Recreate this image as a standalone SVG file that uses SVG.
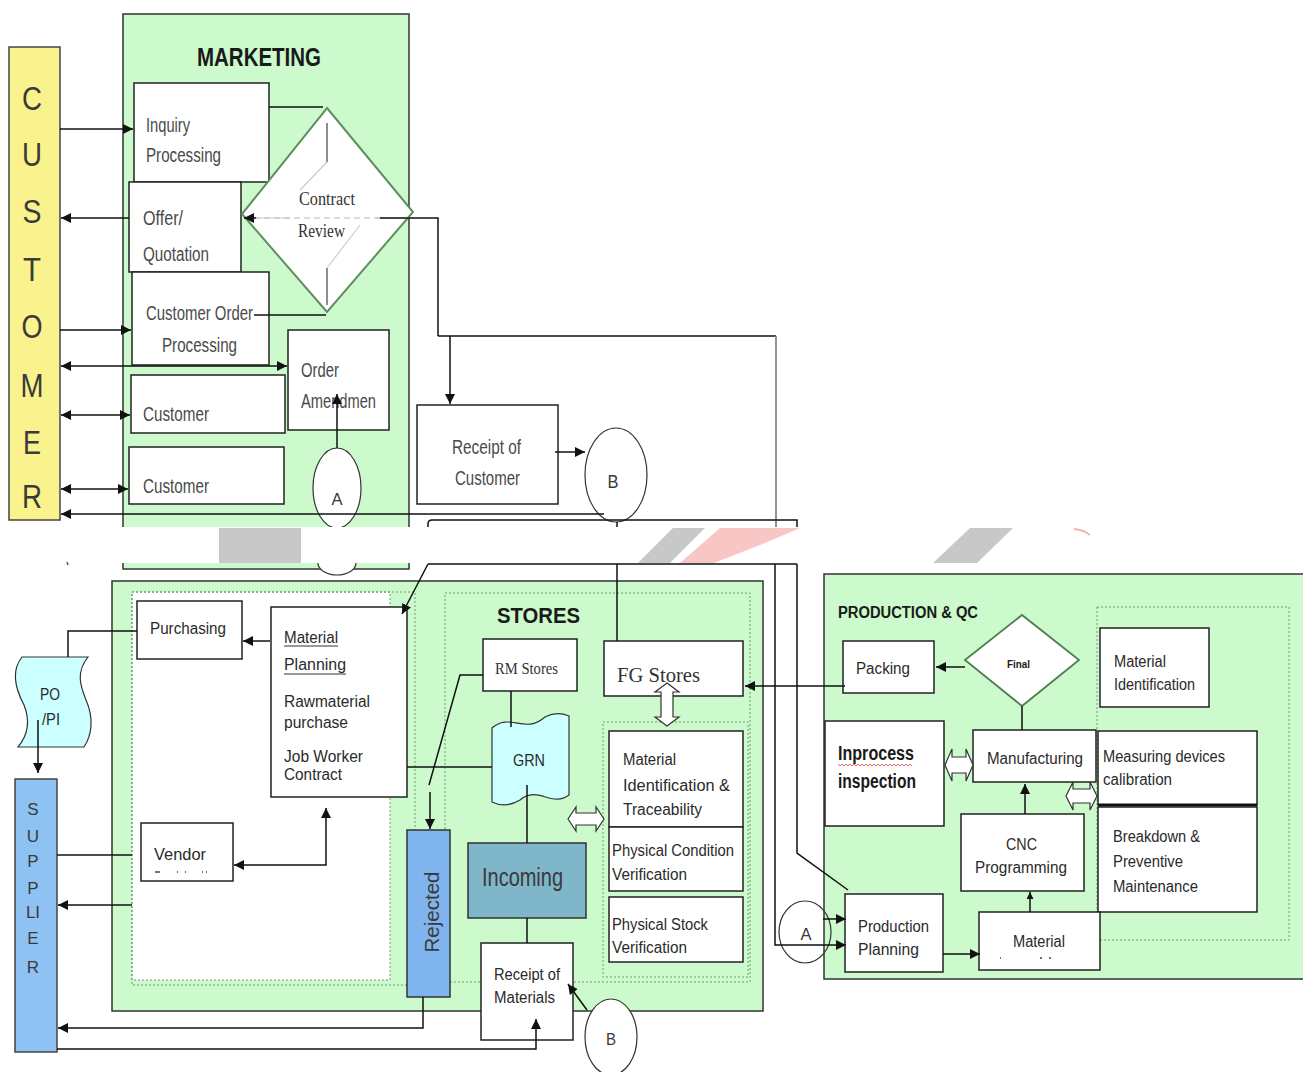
<svg xmlns="http://www.w3.org/2000/svg" width="1303" height="1072" viewBox="0 0 1303 1072">
<defs>
<marker id="ah" viewBox="0 0 10 10" refX="10" refY="5" markerWidth="10" markerHeight="10" markerUnits="userSpaceOnUse" orient="auto-start-reverse">
<path d="M0,0 L10,5 L0,10 z" fill="#111"/>
</marker>
<marker id="ahs" viewBox="0 0 10 10" refX="10" refY="5" markerWidth="7" markerHeight="7" markerUnits="userSpaceOnUse" orient="auto-start-reverse">
<path d="M0,0 L10,5 L0,10 z" fill="#111"/>
</marker>
</defs>
<style>
.zone{fill:#CCFACC;stroke:#333;stroke-width:1.5}
.box{fill:#fff;stroke:#222;stroke-width:1.5}
.dot{fill:none;stroke:#6a9a6a;stroke-width:1;stroke-dasharray:2 2}
.ln{fill:none;stroke:#111;stroke-width:1.5}
.ar{fill:none;stroke:#111;stroke-width:1.5;marker-end:url(#ah)}
.da{fill:none;stroke:#111;stroke-width:1.5;marker-start:url(#ah);marker-end:url(#ah)}
.hol{fill:#fff;stroke:#333;stroke-width:1.2}
.t{font-family:"Liberation Sans",Arial,sans-serif;fill:#3a3a3a}
.n{font-family:"Liberation Sans",Arial,sans-serif;fill:#4a4a4a;font-size:20px}
.m{font-family:"Liberation Sans",Arial,sans-serif;fill:#2a2a2a;font-size:16px}
.s{font-family:"Liberation Serif","Times New Roman",serif;fill:#333}
.b{font-family:"Liberation Sans",Arial,sans-serif;font-weight:bold;fill:#1a1a1a}
</style>
<rect width="1303" height="1072" fill="#fff"/>

<!-- CUSTOMER bar -->
<g id="customer">
<rect x="9" y="47" width="51" height="473" fill="#FAF28C" stroke="#444" stroke-width="1.5"/>
<g class="t" font-size="34" text-anchor="middle" fill="#3a3a3a">
<text x="32" y="110" textLength="20" lengthAdjust="spacingAndGlyphs">C</text><text x="32" y="166" textLength="20" lengthAdjust="spacingAndGlyphs">U</text><text x="32" y="223" textLength="19" lengthAdjust="spacingAndGlyphs">S</text><text x="32" y="281" textLength="18" lengthAdjust="spacingAndGlyphs">T</text>
<text x="32" y="338" textLength="21" lengthAdjust="spacingAndGlyphs">O</text><text x="32" y="397" textLength="23" lengthAdjust="spacingAndGlyphs">M</text><text x="32" y="454" textLength="18" lengthAdjust="spacingAndGlyphs">E</text><text x="32" y="508" textLength="20" lengthAdjust="spacingAndGlyphs">R</text>
</g>
</g>

<!-- MARKETING -->
<g id="marketing">
<rect class="zone" x="123" y="14" width="286" height="555"/>
<text class="b" x="197" y="66" font-size="26" textLength="124" lengthAdjust="spacingAndGlyphs">MARKETING</text>
</g>
<g id="inquiry">
<rect class="box" x="134" y="83" width="135" height="99"/>
<text class="n" x="146" y="132" textLength="44" lengthAdjust="spacingAndGlyphs">Inquiry</text>
<text class="n" x="146" y="162" textLength="75" lengthAdjust="spacingAndGlyphs">Processing</text>
</g>
<g id="offer">
<rect class="box" x="129" y="182" width="112" height="90"/>
<text class="n" x="143" y="225" textLength="40" lengthAdjust="spacingAndGlyphs">Offer/</text>
<text class="n" x="143" y="261" textLength="66" lengthAdjust="spacingAndGlyphs">Quotation</text>
</g>
<g id="custorder">
<rect class="box" x="132" y="272" width="137" height="93"/>
<text class="n" x="146" y="320" textLength="107" lengthAdjust="spacingAndGlyphs">Customer Order</text>
<text class="n" x="162" y="352" textLength="75" lengthAdjust="spacingAndGlyphs">Processing</text>
</g>
<g id="amend">
<rect class="box" x="288" y="330" width="101" height="100"/>
<text class="n" x="301" y="377" textLength="38" lengthAdjust="spacingAndGlyphs">Order</text>
<text class="n" x="301" y="408" textLength="75" lengthAdjust="spacingAndGlyphs">Amendmen</text>
</g>
<g id="cust1">
<rect class="box" x="131" y="375" width="154" height="58"/>
<text class="n" x="143" y="421" textLength="66" lengthAdjust="spacingAndGlyphs">Customer</text>
</g>
<g id="cust2">
<rect class="box" x="129" y="447" width="155" height="57"/>
<text class="n" x="143" y="493" textLength="66" lengthAdjust="spacingAndGlyphs">Customer</text>
</g>
<g id="contract">
<polygon points="327,108 413,212 327,312 242,214" fill="#fff" stroke="#5E8F5E" stroke-width="2"/>
<path d="M327,123 L327,162 M327,268 L327,305" stroke="#444" stroke-width="1.2"/>
<path d="M327,162 L300,190 M375,218 L410,218 M255,218 L290,218 M360,225 L327,268" stroke="#ccc" stroke-width="1.2" fill="none"/>
<text class="s" x="299" y="205" font-size="19" textLength="56" lengthAdjust="spacingAndGlyphs">Contract</text>
<text class="s" x="298" y="237" font-size="19" textLength="47" lengthAdjust="spacingAndGlyphs">Review</text>
</g>
<g id="circleA1">
<ellipse cx="337" cy="488" rx="24" ry="40" fill="#fff" stroke="#333" stroke-width="1.2"/>
<text class="t" x="337" y="505" font-size="17" text-anchor="middle" textLength="11" lengthAdjust="spacingAndGlyphs">A</text>
<path d="M318,563 A19,12 0 0,0 356,563" fill="#fff" stroke="#333" stroke-width="1.2"/>
</g>
<g id="receiptcust">
<rect class="box" x="417" y="405" width="141" height="99"/>
<text class="n" x="452" y="454" textLength="69" lengthAdjust="spacingAndGlyphs">Receipt of</text>
<text class="n" x="455" y="485" textLength="65" lengthAdjust="spacingAndGlyphs">Customer</text>
</g>
<g id="circleB1">
<ellipse cx="616" cy="475" rx="31" ry="47" fill="#fff" stroke="#333" stroke-width="1.2"/>
<text class="t" x="613" y="488" font-size="18" text-anchor="middle" textLength="11" lengthAdjust="spacingAndGlyphs">B</text>
</g>

<!-- STORES / PURCHASE -->
<g id="stores">
<rect class="zone" x="112" y="581" width="651" height="430"/>
<rect x="132" y="592" width="258" height="388" fill="#fff" stroke="#6a9a6a" stroke-width="1" stroke-dasharray="2 2"/>
<rect class="dot" x="132" y="592" width="283" height="393"/>
<rect class="dot" x="445" y="593" width="305" height="389"/>
<rect class="dot" x="603" y="722" width="145" height="255"/>
<text class="b" x="497" y="623" font-size="22" textLength="83" lengthAdjust="spacingAndGlyphs">STORES</text>
</g>
<g id="purchasing">
<rect class="box" x="137" y="601" width="105" height="58"/>
<text class="m" x="150" y="634" textLength="76" lengthAdjust="spacingAndGlyphs">Purchasing</text>
</g>
<g id="matplan">
<rect class="box" x="271" y="607" width="136" height="190"/>
<text class="m" x="284" y="643" textLength="54" lengthAdjust="spacingAndGlyphs">Material</text>
<text class="m" x="284" y="670" textLength="62" lengthAdjust="spacingAndGlyphs">Planning</text>
<path d="M284,646 L338,646 M284,674 L346,674" stroke="#333" stroke-width="1"/>
<text class="m" x="284" y="707" textLength="86" lengthAdjust="spacingAndGlyphs">Rawmaterial</text>
<text class="m" x="284" y="728" textLength="64" lengthAdjust="spacingAndGlyphs">purchase</text>
<text class="m" x="284" y="762" textLength="79" lengthAdjust="spacingAndGlyphs">Job Worker</text>
<text class="m" x="284" y="780" textLength="58" lengthAdjust="spacingAndGlyphs">Contract</text>
</g>
<g id="vendor">
<rect class="box" x="141" y="823" width="92" height="58"/>
<text class="m" x="154" y="860" textLength="52" lengthAdjust="spacingAndGlyphs">Vendor</text>
<path d="M155,872 L160,872 M177,872 L178,872 M185,872 L186,872 M202,872 L203,872 M206,872 L207,872" stroke="#444" stroke-width="1.5"/>
</g>
<g id="po">
<path d="M22,657 L88,657 C76,672 80,685 86,700 C94,718 92,735 84,747 L18,747 C28,735 30,720 24,705 C16,690 10,672 22,657 Z" fill="#CCFFFF" stroke="#333" stroke-width="1.2"/>
<text class="m" x="40" y="700" textLength="20" lengthAdjust="spacingAndGlyphs">PO</text>
<text class="m" x="42" y="725" textLength="18" lengthAdjust="spacingAndGlyphs">/PI</text>
</g>
<g id="supplier">
<rect x="15" y="779" width="42" height="273" fill="#8EC2F2" stroke="#444" stroke-width="1.5"/>
<g class="t" font-size="17" text-anchor="middle" fill="#2c3e58">
<text x="33" y="815">S</text><text x="33" y="842">U</text><text x="33" y="867">P</text><text x="33" y="894">P</text>
<text x="33" y="918">LI</text><text x="33" y="944">E</text><text x="33" y="973">R</text>
</g>
</g>
<g id="rmstores">
<rect class="box" x="483" y="639" width="94" height="52"/>
<text class="s" x="495" y="674" font-size="16" textLength="63" lengthAdjust="spacingAndGlyphs">RM Stores</text>
</g>
<g id="grn">
<path d="M492,728 C510,712 525,735 545,717 C555,712 562,713 569,716 L569,795 C552,808 538,785 520,800 C510,806 500,806 492,802 Z" fill="#CCFFFF" stroke="#333" stroke-width="1.2"/>
<text class="m" x="513" y="766" textLength="32" lengthAdjust="spacingAndGlyphs">GRN</text>
</g>
<g id="incoming">
<rect x="468" y="843" width="118" height="75" fill="#7FB6C9" stroke="#333" stroke-width="1.5"/>
<text class="t" x="482" y="886" font-size="25" fill="#26384f" textLength="81" lengthAdjust="spacingAndGlyphs">Incoming</text>
</g>
<g id="receiptmat">
<rect class="box" x="481" y="943" width="92" height="97"/>
<text class="m" x="494" y="980" textLength="66" lengthAdjust="spacingAndGlyphs">Receipt of</text>
<text class="m" x="494" y="1003" textLength="61" lengthAdjust="spacingAndGlyphs">Materials</text>
</g>
<g id="rejected">
<rect x="407" y="830" width="43" height="167" fill="#80B4EE" stroke="#333" stroke-width="1.5"/>
<text class="t" transform="translate(439,912) rotate(-90)" font-size="20" fill="#2c3e58" text-anchor="middle" textLength="81" lengthAdjust="spacingAndGlyphs">Rejected</text>
</g>
<g id="fgstores">
<rect class="box" x="604" y="641" width="139" height="55"/>
<text class="s" x="617" y="682" font-size="22" textLength="83" lengthAdjust="spacingAndGlyphs">FG Stores</text>
</g>
<g id="matidtrace">
<rect class="box" x="609" y="731" width="134" height="96"/>
<text class="m" x="623" y="765" textLength="53" lengthAdjust="spacingAndGlyphs">Material</text>
<text class="m" x="623" y="791" textLength="107" lengthAdjust="spacingAndGlyphs">Identification  &amp;</text>
<text class="m" x="623" y="815" textLength="79" lengthAdjust="spacingAndGlyphs">Traceability</text>
</g>
<g id="physcond">
<rect class="box" x="609" y="827" width="134" height="64"/>
<text class="m" x="612" y="856" textLength="122" lengthAdjust="spacingAndGlyphs">Physical Condition</text>
<text class="m" x="612" y="880" textLength="75" lengthAdjust="spacingAndGlyphs">Verification</text>
</g>
<g id="physstock">
<rect class="box" x="609" y="897" width="134" height="65"/>
<text class="m" x="612" y="930" textLength="96" lengthAdjust="spacingAndGlyphs">Physical Stock</text>
<text class="m" x="612" y="953" textLength="75" lengthAdjust="spacingAndGlyphs">Verification</text>
</g>
<g id="circleB2">
<ellipse cx="611" cy="1037" rx="26" ry="38" fill="#fff" stroke="#333" stroke-width="1.2"/>
<text class="t" x="611" y="1045" font-size="16" text-anchor="middle" textLength="10" lengthAdjust="spacingAndGlyphs">B</text>
</g>

<!-- PRODUCTION & QC -->
<g id="production">
<rect class="zone" x="824" y="574" width="481" height="405"/>
<rect class="dot" x="1097" y="607" width="192" height="333"/>
<text class="b" x="838" y="618" font-size="16" textLength="140" lengthAdjust="spacingAndGlyphs">PRODUCTION &amp; QC</text>
</g>
<g id="packing">
<rect class="box" x="843" y="641" width="91" height="52"/>
<text class="m" x="856" y="674" textLength="54" lengthAdjust="spacingAndGlyphs">Packing</text>
</g>
<g id="final">
<polygon points="965,660 1022,615 1079,660 1022,706" fill="#fff" stroke="#4E7F4E" stroke-width="1.8"/>
<text class="b" x="1007" y="668" font-size="10" textLength="23" lengthAdjust="spacingAndGlyphs">Final</text>
</g>
<g id="matident">
<rect class="box" x="1100" y="628" width="109" height="79"/>
<text class="m" x="1114" y="667" textLength="52" lengthAdjust="spacingAndGlyphs">Material</text>
<text class="m" x="1114" y="690" textLength="81" lengthAdjust="spacingAndGlyphs">Identification</text>
</g>
<g id="inprocess">
<rect class="box" x="825" y="721" width="119" height="105"/>
<text class="b" x="838" y="760" font-size="20" fill="#222" textLength="76" lengthAdjust="spacingAndGlyphs">Inprocess</text>
<path d="M838,764 l2,2 l2,-2 l2,2 l2,-2 l2,2 l2,-2 l2,2 l2,-2 l2,2 l2,-2 l2,2 l2,-2 l2,2 l2,-2 l2,2 l2,-2 l2,2 l2,-2 l2,2 l2,-2 l2,2 l2,-2 l2,2 l2,-2 l2,2 l2,-2 l2,2 l2,-2 l2,2 l2,-2 l2,2 l2,-2 l2,2 l2,-2 l2,2 l2,-2 l2,2" fill="none" stroke="#e05050" stroke-width="0.9"/>
<text class="b" x="838" y="788" font-size="20" fill="#222" textLength="78" lengthAdjust="spacingAndGlyphs">inspection</text>
</g>
<g id="manufacturing">
<rect class="box" x="973" y="730" width="123" height="52"/>
<text class="m" x="987" y="764" textLength="96" lengthAdjust="spacingAndGlyphs">Manufacturing</text>
</g>
<g id="measuring">
<rect class="box" x="1098" y="731" width="159" height="74"/>
<line x1="1098" y1="805" x2="1257" y2="805" stroke="#111" stroke-width="3"/>
<text class="m" x="1103" y="762" textLength="122" lengthAdjust="spacingAndGlyphs">Measuring devices</text>
<text class="m" x="1103" y="785" textLength="69" lengthAdjust="spacingAndGlyphs">calibration</text>
</g>
<g id="breakdown">
<rect class="box" x="1098" y="807" width="159" height="105"/>
<text class="m" x="1113" y="842" textLength="87" lengthAdjust="spacingAndGlyphs">Breakdown &amp;</text>
<text class="m" x="1113" y="867" textLength="70" lengthAdjust="spacingAndGlyphs">Preventive</text>
<text class="m" x="1113" y="892" textLength="85" lengthAdjust="spacingAndGlyphs">Maintenance</text>
</g>
<g id="cnc">
<rect class="box" x="961" y="814" width="123" height="77"/>
<text class="m" x="1006" y="850" textLength="31" lengthAdjust="spacingAndGlyphs">CNC</text>
<text class="m" x="975" y="873" textLength="92" lengthAdjust="spacingAndGlyphs">Programming</text>
</g>
<g id="prodplan">
<rect class="box" x="845" y="894" width="98" height="78"/>
<text class="m" x="858" y="932" textLength="71" lengthAdjust="spacingAndGlyphs">Production</text>
<text class="m" x="858" y="955" textLength="61" lengthAdjust="spacingAndGlyphs">Planning</text>
</g>
<g id="material">
<rect class="box" x="979" y="912" width="121" height="58"/>
<text class="m" x="1013" y="947" textLength="52" lengthAdjust="spacingAndGlyphs">Material</text>
<path d="M1000,958 L1001,958 M1040,958 L1042,958 M1049,958 L1051,958" stroke="#444" stroke-width="1.5"/>
</g>
<g id="circleA2">
<ellipse cx="805" cy="932" rx="26" ry="31" fill="none" stroke="#333" stroke-width="1.2"/>
<text class="t" x="806" y="940" font-size="16" text-anchor="middle" textLength="11" lengthAdjust="spacingAndGlyphs">A</text>
</g>

<!-- CONNECTORS -->
<g id="connectors">
<line class="ar" x1="60" y1="129" x2="133" y2="129"/>
<line class="ln" x1="269" y1="107" x2="323" y2="107"/>
<line class="ar" x1="129" y1="218" x2="61" y2="218"/>
<path class="ln" d="M438,336 L438,218 L380,218"/>
<line x1="380" y1="218" x2="255" y2="218" stroke="#bbb" stroke-width="1.2" stroke-dasharray="6 4"/>
<line class="ar" x1="256" y1="218" x2="244" y2="218"/>
<path class="ln" d="M438,336 L776,336"/>
<line x1="776" y1="336" x2="776" y2="527" stroke="#888" stroke-width="1.8"/>
<line class="ar" x1="450" y1="336" x2="450" y2="404"/>
<line class="ar" x1="60" y1="330" x2="131" y2="330"/>
<line class="ln" x1="254" y1="315" x2="326" y2="315"/>
<line class="da" x1="61" y1="366" x2="287" y2="366"/>
<line class="da" x1="61" y1="415" x2="130" y2="415"/>
<line class="da" x1="61" y1="489" x2="128" y2="489"/>
<line class="ar" x1="337" y1="448" x2="337" y2="394"/>
<line class="ar" x1="604" y1="514" x2="61" y2="514"/>
<line class="ar" x1="555" y1="452" x2="585" y2="452"/>
<path class="ln" d="M428,527 L428,524 Q428,520 432,520 L797,520 L797,527"/>
<line class="ln" x1="617" y1="522" x2="617" y2="527"/>
<path class="ln" d="M428,564 L797,564"/>
<line class="ar" x1="428" y1="564" x2="402" y2="614"/>
<line class="ln" x1="617" y1="564" x2="617" y2="641"/>
<path class="ar" d="M775,564 L775,945 L846,945"/>
<path class="ln" d="M797,564 L797,853 L848,890"/>
<line class="ar" x1="823" y1="919" x2="846" y2="919"/>
<line class="ar" x1="845" y1="686" x2="745" y2="686"/>
<line class="ar" x1="965" y1="667" x2="936" y2="667"/>
<line class="ln" x1="1022" y1="706" x2="1022" y2="730"/>
<line class="ar" x1="1025" y1="814" x2="1025" y2="784"/>
<line x1="1030" y1="912" x2="1030" y2="892" stroke="#111" stroke-width="1.5" marker-end="url(#ahs)"/>
<line class="ar" x1="943" y1="954" x2="980" y2="954"/>
<line class="ar" x1="270" y1="641" x2="243" y2="641"/>
<line class="ln" x1="407" y1="767" x2="492" y2="767"/>
<path class="da" d="M234,865 L326,865 L326,808"/>
<line class="ln" x1="57" y1="855" x2="132" y2="855"/>
<line class="ar" x1="132" y1="905" x2="58" y2="905"/>
<path class="ln" d="M137,631 L68,631 L68,657"/>
<line class="ar" x1="38" y1="720" x2="38" y2="773"/>
<path class="ar" d="M423,997 L423,1028 L58,1028"/>
<path class="ar" d="M57,1049 L536,1049 L536,1019"/>
<path class="ln" d="M483,675 L460,675 L429,785"/>
<line class="ar" x1="430" y1="792" x2="430" y2="829"/>
<line class="ln" x1="511" y1="691" x2="511" y2="727"/>
<line class="ln" x1="527" y1="785" x2="527" y2="843"/>
<line class="ln" x1="527" y1="918" x2="527" y2="943"/>
<line class="ar" x1="587" y1="1010" x2="568" y2="984"/>
<polygon class="hol" points="568,819 576,807 576,813 596,813 596,807 604,819 596,831 596,825 576,825 576,831"/>
<polygon class="hol" points="667,683 679,692 673,692 673,717 679,717 667,726 655,717 661,717 661,692 655,692"/>
<polygon class="hol" points="945,765 952,749 952,757 966,757 966,749 973,765 966,781 966,773 952,773 952,781"/>
<polygon class="hol" points="1066,796 1073,782 1073,789 1090,789 1090,782 1097,796 1090,810 1090,803 1073,803 1073,810"/>
</g>

<!-- overlay band -->
<g id="band">
<rect x="0" y="527" width="1303" height="36" fill="#fff"/>
<rect x="219" y="528" width="82" height="35" fill="#c8c8c8"/>
<polygon points="673,528 705,528 670,563 638,563" fill="#c8c8c8"/>
<polygon points="720,528 800,528 760,545 714,563 680,563" fill="#f9c6c6"/>
<polygon points="970,528 1013,528 977,563 933,563" fill="#c8c8c8"/>
<path d="M1074,529 Q1084,530 1090,535" stroke="#f9b0b0" stroke-width="2" fill="none"/>
<line x1="67" y1="562" x2="68" y2="565" stroke="#555" stroke-width="1.5"/>
</g>
</svg>
